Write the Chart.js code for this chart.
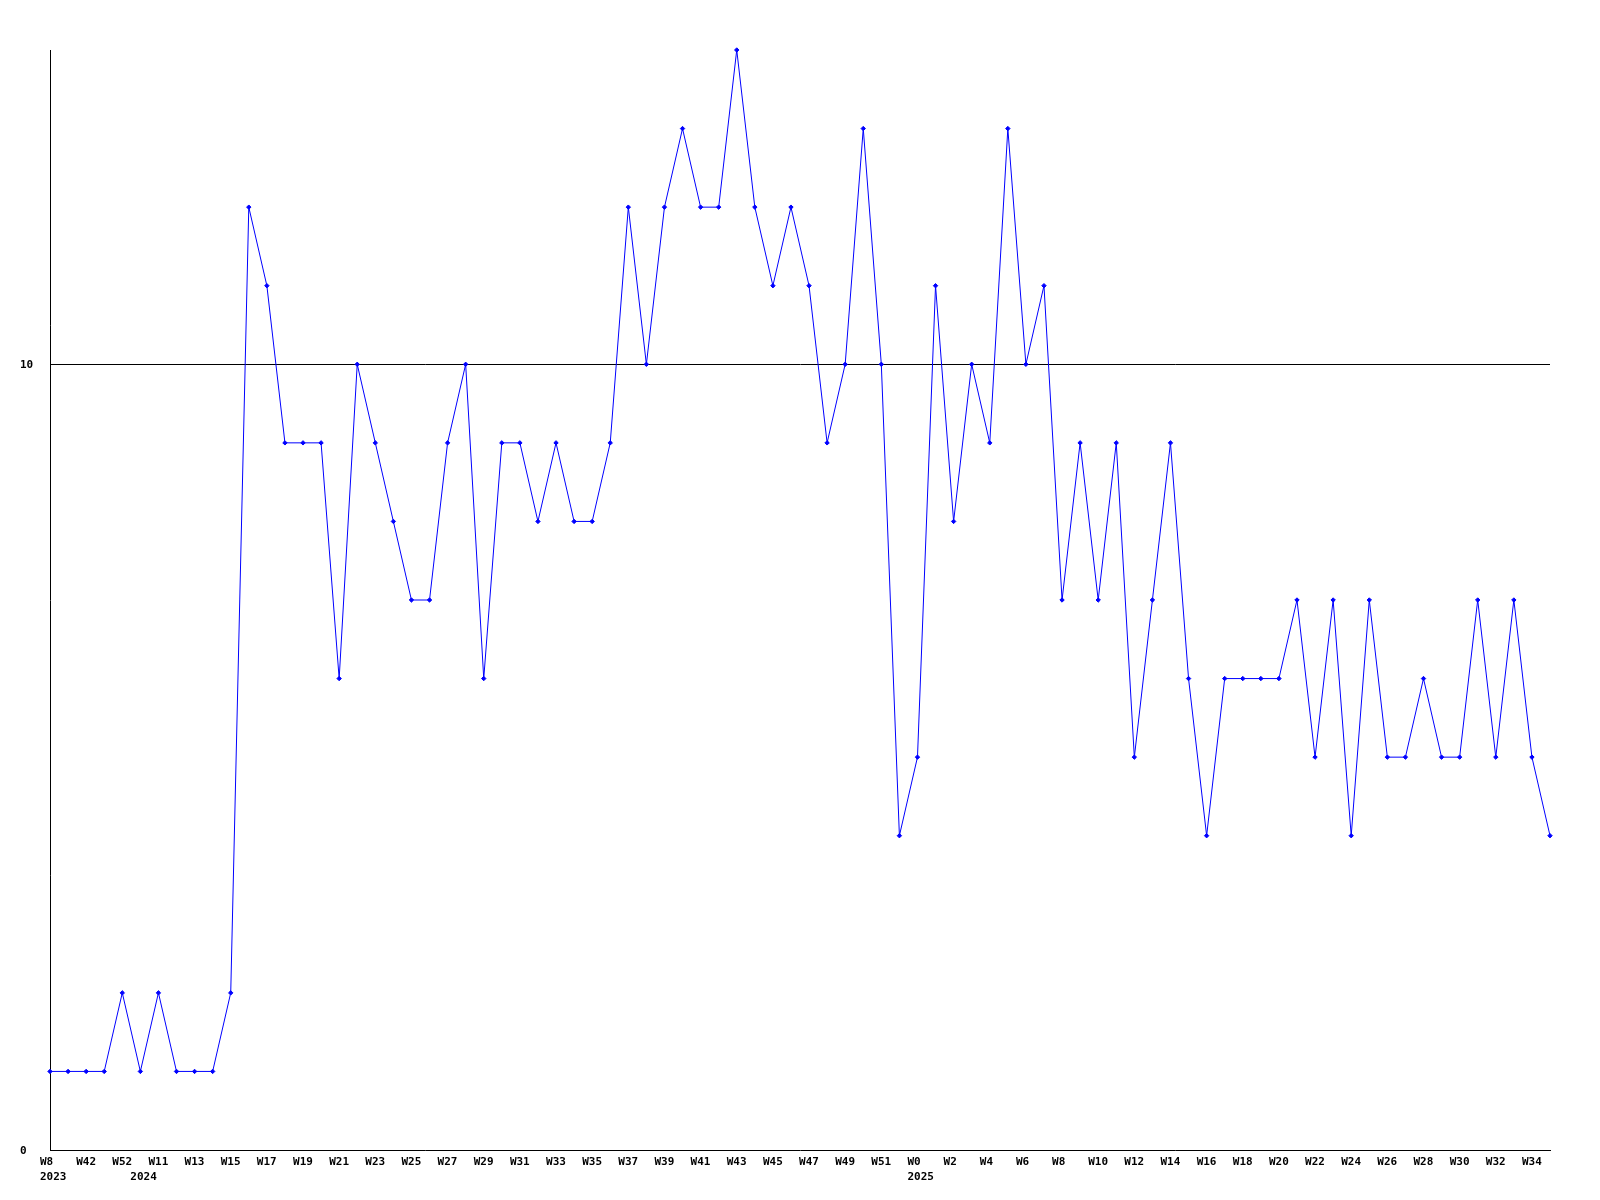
<!DOCTYPE html>
<html>
<head>
<meta charset="utf-8">
<script src="https://cdn.jsdelivr.net/npm/chart.js@4/dist/chart.umd.min.js"></script>
<style>
html, body { margin: 0; padding: 0; background: #ffffff; }
#wrap { width: 1600px; height: 1200px; }
</style>
</head>
<body>
<div id="wrap"><canvas id="c" width="1600" height="1200"></canvas></div>
<script>
const weekLabels = [
  'W8','W41','W42','W43','W52','W1',
  'W11','W12','W13','W14','W15','W16','W17','W18','W19','W20',
  'W21','W22','W23','W24','W25','W26','W27','W28','W29','W30',
  'W31','W32','W33','W34','W35','W36','W37','W38','W39','W40',
  'W41','W42','W43','W44','W45','W46','W47','W48','W49','W50',
  'W51','W52',
  'W0','W1','W2','W3','W4','W5','W6','W7','W8','W9',
  'W10','W11','W12','W13','W14','W15','W16','W17','W18','W19',
  'W20','W21','W22','W23','W24','W25','W26','W27','W28','W29',
  'W30','W31','W32','W33','W34','W35'
];
const yearIndex = [0, 5, 48];
const yearNames = ['2023', '2024', '2025'];
const values = [
  1,1,1,1,2,1,2,1,1,1,
  2,12,11,9,9,9,6,10,9,8,
  7,7,9,10,6,9,9,8,9,8,
  8,9,12,10,12,13,12,12,14,12,
  11,12,11,9,10,13,10,4,5,11,
  8,10,9,13,10,11,7,9,7,9,
  5,7,9,6,4,6,6,6,6,7,
  5,7,4,7,5,5,6,5,5,7,
  5,7,5,4
];
const yTicksShown = [0, 10];
const refLineValue = 10;

Chart.defaults.font.family = "'DejaVu Sans Mono', 'Liberation Mono', monospace";
Chart.defaults.font.weight = 'bold';
Chart.defaults.font.size = 11;
Chart.defaults.color = '#000000';

new Chart(document.getElementById('c'), {
  type: 'line',
  data: {
    labels: weekLabels,
    datasets: [{
      data: values,
      borderColor: '#0000ff',
      backgroundColor: '#0000ff',
      borderWidth: 1,
      tension: 0,
      fill: false,
      pointStyle: 'rectRot',
      pointRadius: 2.2,
      pointBorderWidth: 1,
      pointBackgroundColor: '#0000ff',
      pointBorderColor: '#0000ff',
      pointHoverRadius: 2.2,
      clip: false
    }]
  },
  options: {
    responsive: false,
    animation: false,
    devicePixelRatio: 1,
    layout: { padding: { top: 50, right: 50, left: 20, bottom: 0 } },
    plugins: { legend: { display: false }, tooltip: { enabled: false } },
    scales: {
      x: {
        type: 'category',
        offset: false,
        grid: { display: false, drawTicks: false },
        border: { display: true, color: '#000000', width: 1 },
        ticks: {
          autoSkip: false,
          maxRotation: 0,
          minRotation: 0,
          align: 'start',
          labelOffset: -10,
          padding: 5,
          font: { size: 11, weight: 'bold', lineHeight: 15 / 11 },
          callback: function (value, index) {
            const lines = [index % 2 === 0 ? weekLabels[index] : ''];
            const yi = yearIndex.indexOf(index);
            if (yi >= 0) lines.push(yearNames[yi]);
            return lines.length === 1 ? lines[0] : lines;
          }
        },
        afterFit: function (scale) { scale.height = 50; }
      },
      y: {
        min: 0,
        max: 14,
        grid: {
          drawTicks: false,
          color: function (ctx) {
            return ctx.tick && ctx.tick.value === refLineValue ? '#000000' : 'rgba(0,0,0,0)';
          },
          lineWidth: 1
        },
        border: { display: true, color: '#000000', width: 1 },
        ticks: {
          stepSize: 10,
          includeBounds: false,
          crossAlign: 'far',
          padding: 0,
          labelOffset: 1,
          font: { size: 11, weight: 'bold' },
          callback: function (value) {
            return yTicksShown.indexOf(value) >= 0 ? String(value) : '';
          }
        },
        afterFit: function (scale) { scale.width = 30; }
      }
    }
  }
});
</script>
</body>
</html>
